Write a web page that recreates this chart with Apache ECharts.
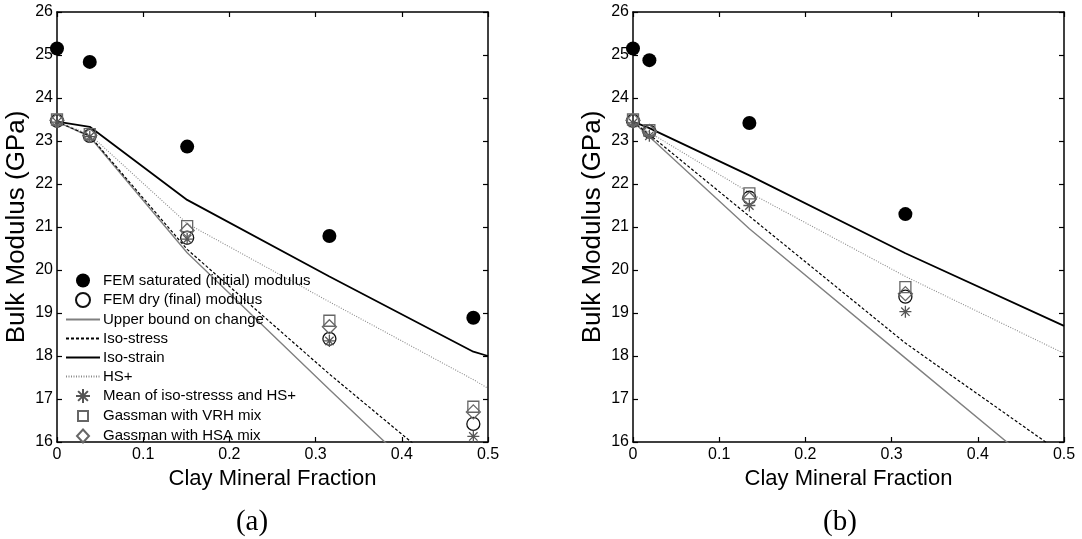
<!DOCTYPE html>
<html>
<head>
<meta charset="utf-8">
<script src="https://cdn.jsdelivr.net/npm/echarts@6/dist/echarts.min.js"></script>
<style>
html,body{margin:0;padding:0;background:#fff;}
#chart{width:1082px;height:539px;}
</style>
</head>
<body>
<div id="chart"></div>
<script>
// ---------- data ----------
var xTicks = [0, 0.1, 0.2, 0.3, 0.4, 0.5];
var yTicks = [16, 17, 18, 19, 20, 21, 22, 23, 24, 25, 26];

// panel (a)
var xPtsA = [0, 0.038, 0.151, 0.316, 0.483];
var satA  = [25.15, 24.84, 22.87, 20.79, 18.89];
var dryA  = [23.47, 23.12, 20.75, 18.40, 16.42];
var meanA = [23.44, 23.10, 20.72, 18.35, 16.13];
var vrhA  = [23.50, 23.16, 21.02, 18.82, 16.82];
var hsaA  = [23.48, 23.13, 20.92, 18.68, 16.70];
var xLineA      = [0, 0.038, 0.151, 0.316, 0.483, 0.5];
var upperA      = [23.45, 23.10, 20.40, 17.22, 14.05, 13.73];
var isoStressA  = [23.45, 23.12, 20.48, 17.58, 14.80, 14.50];
var isoStrainA  = [23.45, 23.33, 21.63, 19.85, 18.10, 18.00];
var hsPlusA     = [23.45, 23.15, 21.08, 19.26, 17.45, 17.25];

// panel (b)
var xPtsB = [0, 0.019, 0.135, 0.316];
var satB  = [25.15, 24.88, 23.42, 21.30];
var dryB  = [23.47, 23.22, 21.68, 19.38];
var meanB = [23.42, 23.12, 21.50, 19.03];
var vrhB  = [23.50, 23.25, 21.78, 19.60];
var hsaB  = [23.48, 23.22, 21.65, 19.45];
var xLineB      = [0, 0.019, 0.135, 0.316, 0.5];
var upperB      = [23.45, 23.10, 20.96, 17.95, 14.90];
var isoStressB  = [23.45, 23.15, 21.25, 18.30, 15.70];
var isoStrainB  = [23.45, 23.30, 22.20, 20.39, 18.70];
var hsPlusB     = [23.45, 23.20, 21.80, 19.85, 18.06];

var names = {
  sat: 'FEM saturated (initial) modulus',
  dry: 'FEM dry (final) modulus',
  upper: 'Upper bound on change',
  iso1: 'Iso-stress',
  iso2: 'Iso-strain',
  hs: 'HS+',
  mean: 'Mean of iso-stresss and HS+',
  vrh: 'Gassman with VRH mix',
  hsa: 'Gassman with HSA mix'
};
var panelLabels = ['(a)', '(b)'];
var xName = 'Clay Mineral Fraction';
var yName = 'Bulk Modulus (GPa)';

// ---------- helpers ----------
function pairs(xs, ys) { return xs.map(function (x, i) { return [x, ys[i]]; }); }
var FONT = "'Liberation Sans', Arial, Helvetica, sans-serif";
var STAR = 'path://M10 0L10 20M0 10L20 10M3 3L17 17M3 17L17 3';
// legend icons drawn inside a 34x14 box so they are not stretched
var ICON_RECT = 'path://M0 0M34 14M12 2L22 2L22 12L12 12Z';
var ICON_DIAMOND = 'path://M0 0M34 14M17 0.5L23 7L17 13.5L11 7Z';

var grids = [
  {left: 57, top: 12, width: 431, height: 430},
  {left: 633, top: 12, width: 431, height: 430}
];

function xAxes(gi) {
  var base = {
    type: 'value', gridIndex: gi, min: 0, max: 0.5, interval: 0.1,
    axisLine: {show: true, onZero: false, lineStyle: {color: '#000', width: 1.5}},
    axisTick: {show: true, inside: true, length: 5, lineStyle: {color: '#000', width: 1.2}},
    splitLine: {show: false}
  };
  var bottom = Object.assign({}, base, {
    position: 'bottom',
    axisLabel: {show: true, color: '#000', fontSize: 16, fontFamily: FONT, margin: 5,
      formatter: function (v) { return String(Math.round(v * 10) / 10); }},
    name: xName, nameLocation: 'middle', nameGap: 20,
    nameTextStyle: {color: '#000', fontSize: 22, fontFamily: FONT}
  });
  var top = Object.assign({}, base, {position: 'top', axisLabel: {show: false}});
  return [bottom, top];
}
function yAxes(gi) {
  var base = {
    type: 'value', gridIndex: gi, min: 16, max: 26, interval: 1,
    axisLine: {show: true, onZero: false, lineStyle: {color: '#000', width: 1.5}},
    axisTick: {show: true, inside: true, length: 5, lineStyle: {color: '#000', width: 1.2}},
    splitLine: {show: false}
  };
  var left = Object.assign({}, base, {
    position: 'left',
    axisLabel: {show: true, color: '#000', fontSize: 16, fontFamily: FONT, margin: 4},
    name: yName, nameLocation: 'middle', nameGap: 27,
    nameTextStyle: {color: '#000', fontSize: 26, fontFamily: FONT}
  });
  var right = Object.assign({}, base, {position: 'right', axisLabel: {show: false}});
  return [left, right];
}

function panelSeries(ai, d) {
  var common = {xAxisIndex: ai, yAxisIndex: ai, silent: true, animation: false};
  function line(name, xs, ys, ls, z) {
    return Object.assign({}, common, {
      type: 'line', name: name, data: pairs(xs, ys), symbol: 'none', clip: true, z: z,
      lineStyle: ls, itemStyle: {color: ls.color}, emphasis: {disabled: true}
    });
  }
  function scat(name, xs, ys, sym, size, is, z) {
    is.opacity = 1;
    return Object.assign({}, common, {
      type: 'scatter', name: name, data: pairs(xs, ys), symbol: sym, symbolSize: size,
      symbolKeepAspect: true, itemStyle: is, z: z, emphasis: {disabled: true}
    });
  }
  return [
    scat(names.sat, d.xp, d.sat, 'circle', 14, {color: '#000'}, 5),
    scat(names.dry, d.xp, d.dry, 'circle', 13, {color: 'rgba(0,0,0,0)', borderColor: '#111', borderWidth: 1.3}, 6),
    line(names.upper, d.xl, d.upper, {color: '#808080', width: 1.4, type: 'solid'}, 2),
    line(names.iso1, d.xl, d.iso1, {color: '#000', width: 1.2, type: [3, 2]}, 2),
    line(names.iso2, d.xl, d.iso2, {color: '#000', width: 1.8, type: 'solid'}, 2),
    line(names.hs, d.xl, d.hs, {color: '#8a8a8a', width: 1.1, type: [1, 1.5]}, 2),
    scat(names.mean, d.xp, d.mean, STAR, 12, {color: 'rgba(0,0,0,0)', borderColor: '#555', borderWidth: 1.3}, 6),
    scat(names.vrh, d.xp, d.vrh, 'rect', 11, {color: 'rgba(0,0,0,0)', borderColor: '#666', borderWidth: 1.3}, 6),
    scat(names.hsa, d.xp, d.hsa, 'diamond', 14, {color: 'rgba(0,0,0,0)', borderColor: '#666', borderWidth: 1.3}, 6)
  ];
}

var xa = xAxes(0).concat(xAxes(1));
var ya = yAxes(0).concat(yAxes(1));

var series = panelSeries(0, {xp: xPtsA, sat: satA, dry: dryA, mean: meanA, vrh: vrhA, hsa: hsaA,
    xl: xLineA, upper: upperA, iso1: isoStressA, iso2: isoStrainA, hs: hsPlusA})
  .concat(panelSeries(2, {xp: xPtsB, sat: satB, dry: dryB, mean: meanB, vrh: vrhB, hsa: hsaB,
    xl: xLineB, upper: upperB, iso1: isoStressB, iso2: isoStrainB, hs: hsPlusB}));

function lineItem(n) { return {name: n, itemStyle: {opacity: 0}}; }
function symItem(n, sym) { return {name: n, icon: sym}; }

var option = {
  animation: false,
  backgroundColor: '#fff',
  grid: grids,
  xAxis: xa,
  yAxis: ya,
  legend: {
    orient: 'vertical', left: 65, top: 273, padding: 0,
    itemWidth: 34, itemHeight: 14, itemGap: 4,
    selectedMode: false, symbolKeepAspect: true,
    textStyle: {color: '#000', fontSize: 15, fontFamily: FONT, padding: [0, 0, 0, -2]},
    data: [
      symItem(names.sat, 'circle'), symItem(names.dry, 'circle'),
      lineItem(names.upper), lineItem(names.iso1), lineItem(names.iso2), lineItem(names.hs),
      symItem(names.mean, STAR), symItem(names.vrh, ICON_RECT), symItem(names.hsa, ICON_DIAMOND)
    ]
  },
  title: [
    {text: panelLabels[0], left: 247, top: 503, textAlign: 'center',
      textStyle: {color: '#000', fontSize: 29, fontWeight: 'normal', fontFamily: "'Liberation Serif', 'Times New Roman', serif"}},
    {text: panelLabels[1], left: 835, top: 503, textAlign: 'center',
      textStyle: {color: '#000', fontSize: 29, fontWeight: 'normal', fontFamily: "'Liberation Serif', 'Times New Roman', serif"}}
  ],
  series: series
};

var chart = echarts.init(document.getElementById('chart'), null, {renderer: 'canvas'});
chart.setOption(option);
</script>
</body>
</html>
